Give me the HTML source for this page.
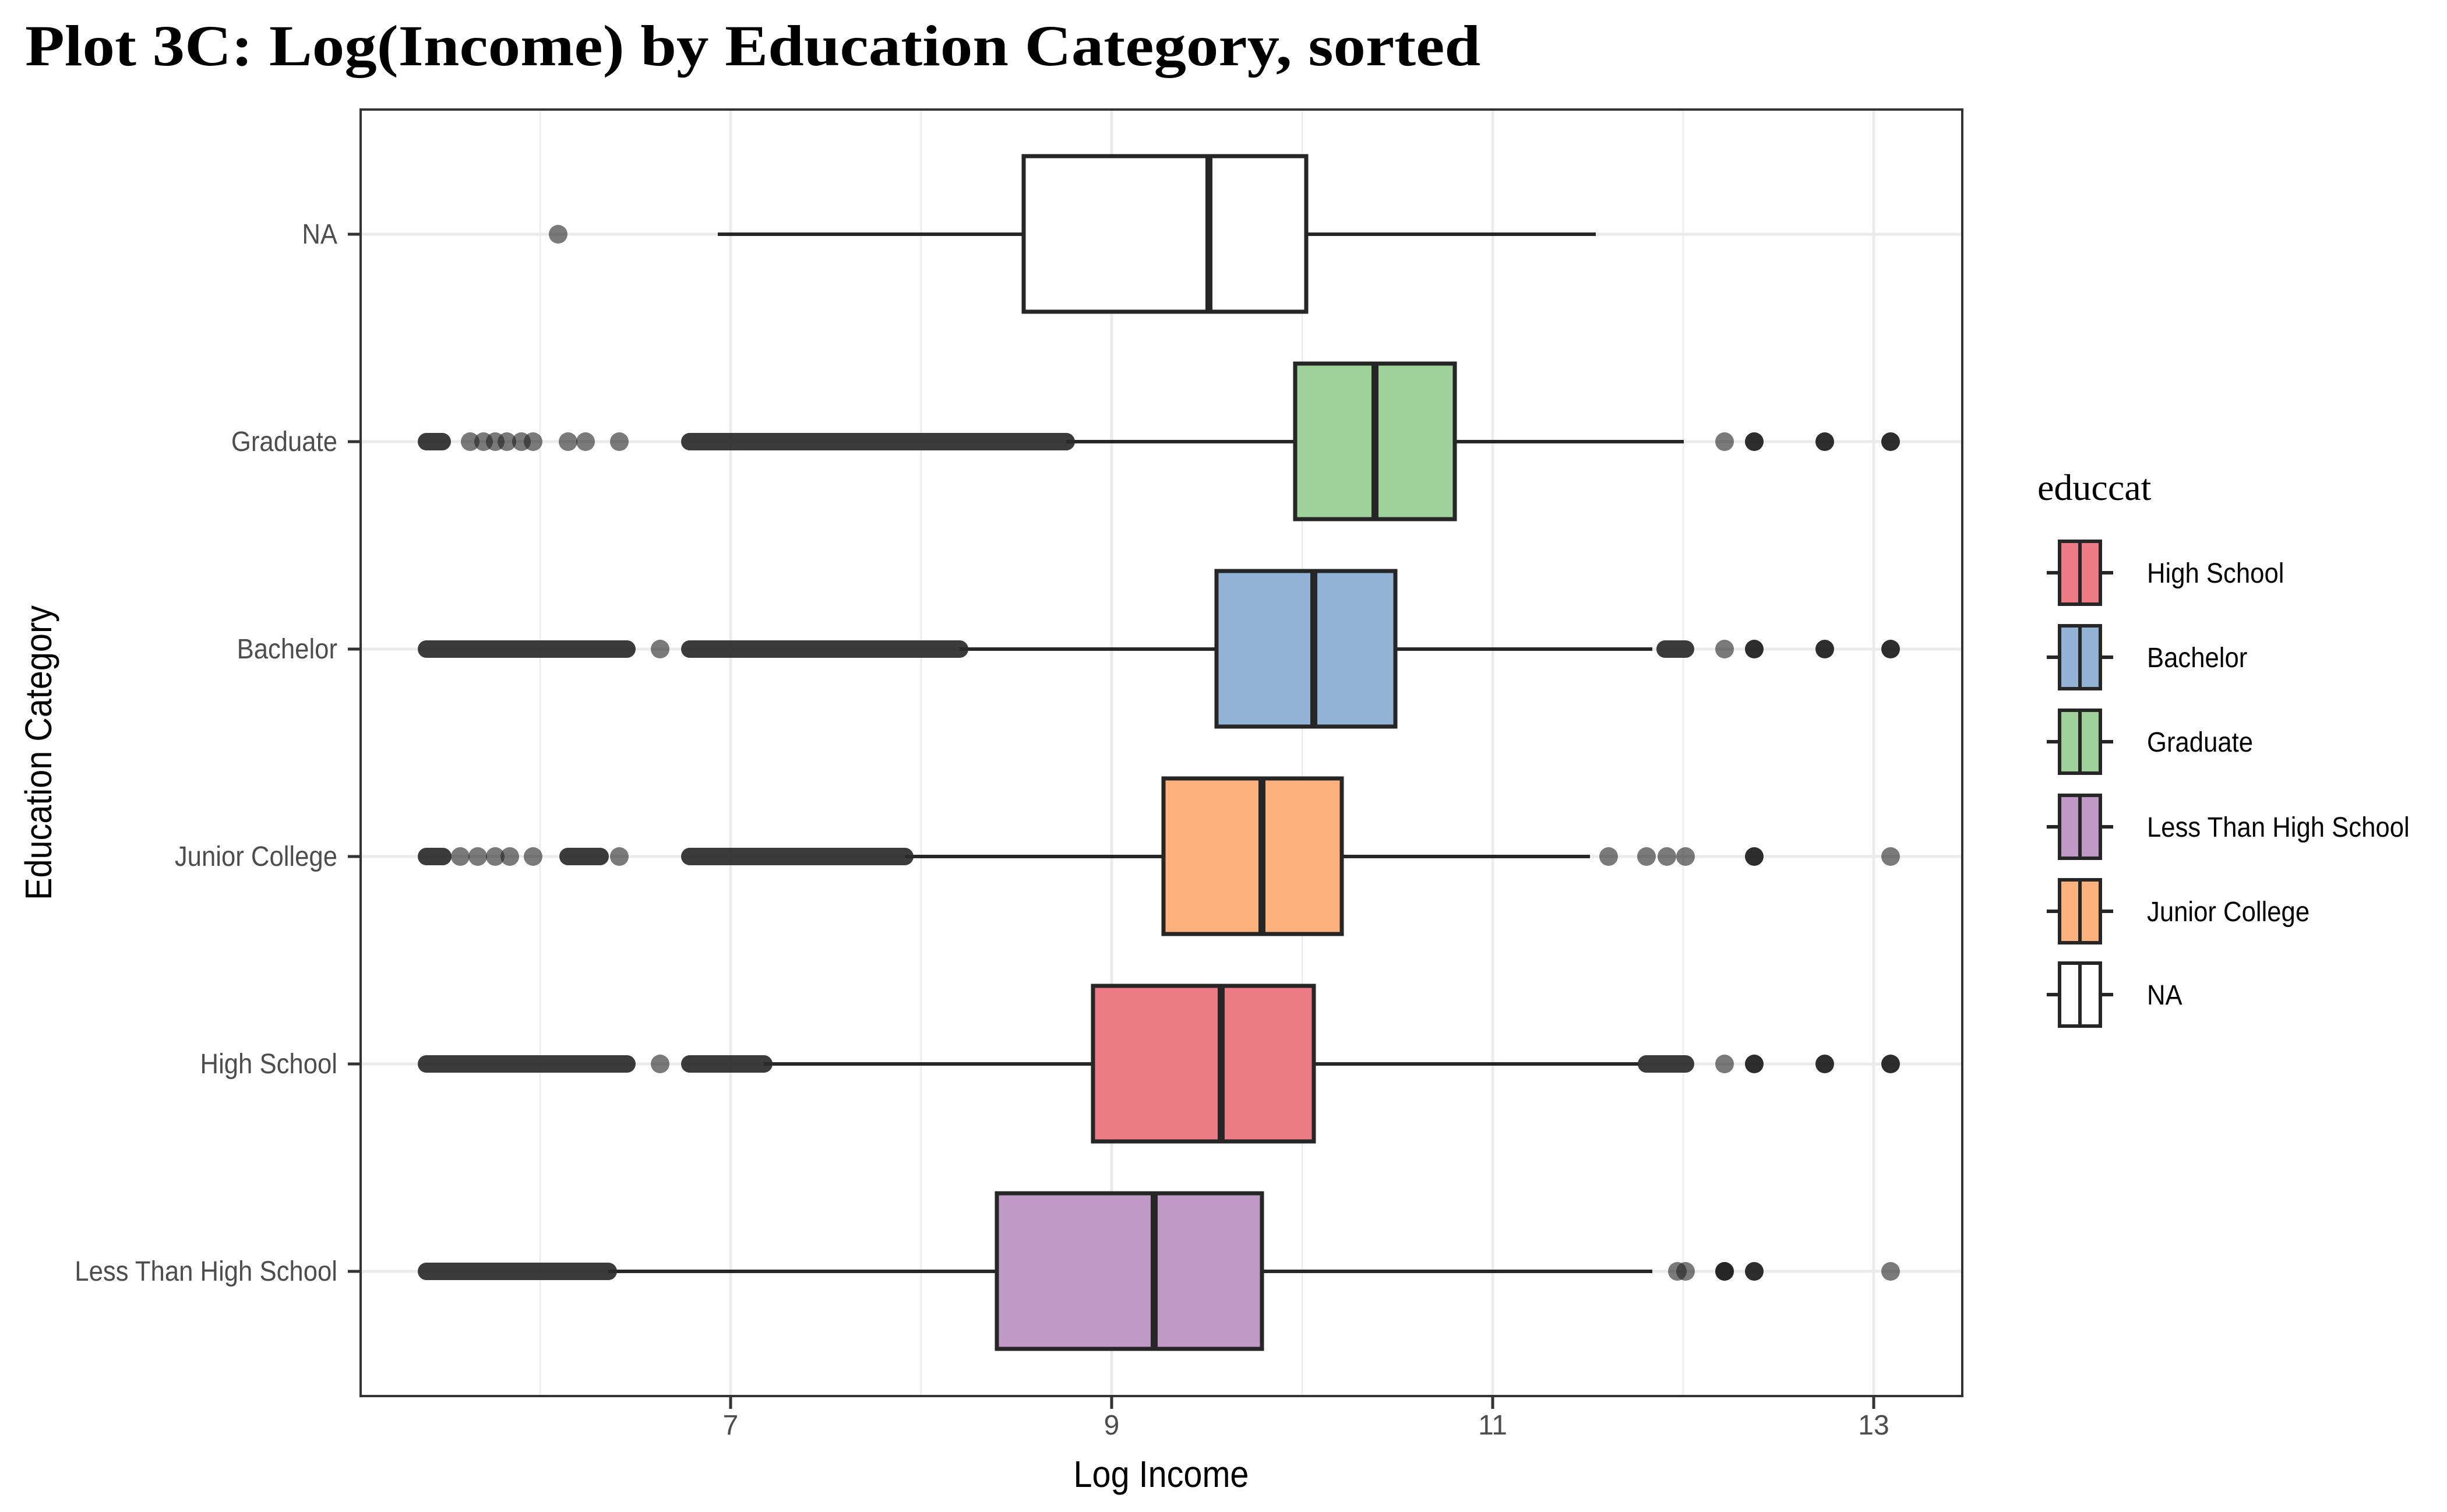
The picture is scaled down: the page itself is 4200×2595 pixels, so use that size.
<!DOCTYPE html>
<html><head><meta charset="utf-8"><style>html,body{margin:0;padding:0;background:#fff}svg{display:block}</style></head>
<body>
<svg width="4200" height="2595" viewBox="0 0 4200 2595" xmlns="http://www.w3.org/2000/svg">
<rect width="4200" height="2595" fill="#fff"/>
<text x="43" y="112" font-family="Liberation Serif, serif" font-weight="bold" font-size="100" textLength="2498" lengthAdjust="spacingAndGlyphs" fill="#000">Plot 3C: Log(Income) by Education Category, sorted</text>
<g stroke="#ebebeb">
<g stroke-width="2.5"><line x1="927" y1="188" x2="927" y2="2396"/><line x1="1581" y1="188" x2="1581" y2="2396"/><line x1="2235" y1="188" x2="2235" y2="2396"/><line x1="2889" y1="188" x2="2889" y2="2396"/></g>
<g stroke-width="5"><line x1="1254" y1="188" x2="1254" y2="2396"/><line x1="1908" y1="188" x2="1908" y2="2396"/><line x1="2562" y1="188" x2="2562" y2="2396"/><line x1="3216" y1="188" x2="3216" y2="2396"/>
<line x1="619" y1="402" x2="3368" y2="402"/><line x1="619" y1="758" x2="3368" y2="758"/><line x1="619" y1="1114" x2="3368" y2="1114"/><line x1="619" y1="1470" x2="3368" y2="1470"/><line x1="619" y1="1826" x2="3368" y2="1826"/><line x1="619" y1="2182" x2="3368" y2="2182"/></g>
</g>
<g stroke="#262626" stroke-width="6">
<line x1="1232" y1="402" x2="1757" y2="402"/><line x1="2242" y1="402" x2="2739" y2="402"/>
<line x1="1830" y1="758" x2="2223" y2="758"/><line x1="2497" y1="758" x2="2890" y2="758"/>
<line x1="1647" y1="1114" x2="2088" y2="1114"/><line x1="2395" y1="1114" x2="2836" y2="1114"/>
<line x1="1553" y1="1470" x2="1997" y2="1470"/><line x1="2303" y1="1470" x2="2729" y2="1470"/>
<line x1="1311" y1="1826" x2="1876" y2="1826"/><line x1="2255" y1="1826" x2="2812" y2="1826"/>
<line x1="1044" y1="2182" x2="1711" y2="2182"/><line x1="2166" y1="2182" x2="2836" y2="2182"/>
</g>
<g stroke="#2a2a2a" stroke-width="30" stroke-linecap="round" stroke-opacity="0.92">
<line x1="732" y1="758" x2="759" y2="758"/><line x1="1184" y1="758" x2="1830" y2="758"/>
<line x1="732" y1="1114" x2="1076" y2="1114"/><line x1="1184" y1="1114" x2="1647" y2="1114"/><line x1="2858" y1="1114" x2="2893" y2="1114"/>
<line x1="732" y1="1470" x2="760" y2="1470"/><line x1="975" y1="1470" x2="1030" y2="1470"/><line x1="1184" y1="1470" x2="1553" y2="1470"/>
<line x1="732" y1="1826" x2="1076" y2="1826"/><line x1="1184" y1="1826" x2="1311" y2="1826"/><line x1="2826" y1="1826" x2="2893" y2="1826"/>
<line x1="732" y1="2182" x2="1044" y2="2182"/>
</g>
<g fill="#222" fill-opacity="0.6">
<circle cx="958" cy="402" r="16"/>
<circle cx="807" cy="758" r="16"/><circle cx="830" cy="758" r="16"/><circle cx="850" cy="758" r="16"/><circle cx="870" cy="758" r="16"/><circle cx="895" cy="758" r="16"/><circle cx="915" cy="758" r="16"/><circle cx="975" cy="758" r="16"/><circle cx="1005" cy="758" r="16"/><circle cx="1063" cy="758" r="16"/><circle cx="2960" cy="758" r="16"/>
<circle cx="1133" cy="1114" r="16"/><circle cx="2960" cy="1114" r="16"/><circle cx="790" cy="1470" r="16"/><circle cx="820" cy="1470" r="16"/><circle cx="850" cy="1470" r="16"/><circle cx="875" cy="1470" r="16"/><circle cx="915" cy="1470" r="16"/><circle cx="1063" cy="1470" r="16"/><circle cx="2761" cy="1470" r="16"/><circle cx="2826" cy="1470" r="16"/><circle cx="2861" cy="1470" r="16"/><circle cx="2893" cy="1470" r="16"/><circle cx="3245" cy="1470" r="16"/>
<circle cx="1133" cy="1826" r="16"/><circle cx="2960" cy="1826" r="16"/>
<circle cx="2879" cy="2182" r="16"/><circle cx="2893" cy="2182" r="16"/><circle cx="2960" cy="2182" r="16"/><circle cx="3245" cy="2182" r="16"/>
</g>
<g fill="#222" fill-opacity="0.95">
<circle cx="3011" cy="758" r="16"/><circle cx="3132" cy="758" r="16"/><circle cx="3245" cy="758" r="16"/>
<circle cx="3011" cy="1114" r="16"/><circle cx="3132" cy="1114" r="16"/><circle cx="3245" cy="1114" r="16"/>
<circle cx="3011" cy="1470" r="16"/>
<circle cx="3011" cy="1826" r="16"/><circle cx="3132" cy="1826" r="16"/><circle cx="3245" cy="1826" r="16"/>
<circle cx="3011" cy="2182" r="16"/><circle cx="2960" cy="2182" r="16"/>
</g>
<g stroke="#262626" stroke-width="7">
<rect x="1757" y="268" width="485" height="267" fill="#fff"/>
<rect x="2223" y="624" width="274" height="267" fill="#9fd29a"/>
<rect x="2088" y="980" width="307" height="267" fill="#93b3d6"/>
<rect x="1997" y="1336" width="306" height="267" fill="#fdb27e"/>
<rect x="1876" y="1692" width="379" height="267" fill="#ec7b86"/>
<rect x="1711" y="2048" width="455" height="267" fill="#c099c7"/>
</g>
<g stroke="#262626" stroke-width="12">
<line x1="2075" y1="268" x2="2075" y2="535"/><line x1="2360" y1="624" x2="2360" y2="891"/><line x1="2255" y1="980" x2="2255" y2="1247"/><line x1="2166" y1="1336" x2="2166" y2="1603"/><line x1="2096" y1="1692" x2="2096" y2="1959"/><line x1="1981" y1="2048" x2="1981" y2="2315"/>
</g>
<rect x="619" y="188" width="2749" height="2208" fill="none" stroke="#333" stroke-width="4"/>
<g stroke="#333" stroke-width="5">
<line x1="597" y1="402" x2="619" y2="402"/><line x1="597" y1="758" x2="619" y2="758"/><line x1="597" y1="1114" x2="619" y2="1114"/><line x1="597" y1="1470" x2="619" y2="1470"/><line x1="597" y1="1826" x2="619" y2="1826"/><line x1="597" y1="2182" x2="619" y2="2182"/>
<line x1="1254" y1="2396" x2="1254" y2="2418"/><line x1="1908" y1="2396" x2="1908" y2="2418"/><line x1="2562" y1="2396" x2="2562" y2="2418"/><line x1="3216" y1="2396" x2="3216" y2="2418"/>
</g>
<g font-family="Liberation Sans, sans-serif" font-size="48" fill="#4d4d4d">
<g text-anchor="end">
<text x="579" y="418" transform="translate(579 0) scale(0.91 1) translate(-579 0)">NA</text>
<text x="579" y="774" transform="translate(579 0) scale(0.91 1) translate(-579 0)">Graduate</text>
<text x="579" y="1130" transform="translate(579 0) scale(0.91 1) translate(-579 0)">Bachelor</text>
<text x="579" y="1486" transform="translate(579 0) scale(0.91 1) translate(-579 0)">Junior College</text>
<text x="579" y="1842" transform="translate(579 0) scale(0.91 1) translate(-579 0)">High School</text>
<text x="579" y="2198" transform="translate(579 0) scale(0.91 1) translate(-579 0)">Less Than High School</text>
</g>
<g text-anchor="middle">
<text x="1254" y="2462">7</text><text x="1908" y="2462">9</text><text x="2562" y="2462">11</text><text x="3216" y="2462">13</text>
</g>
</g>
<text x="1993" y="2552" text-anchor="middle" font-family="Liberation Sans, sans-serif" font-size="64" fill="#000" transform="translate(1993 0) scale(0.9 1) translate(-1993 0)">Log Income</text>
<text x="0" y="0" text-anchor="middle" font-family="Liberation Sans, sans-serif" font-size="64" fill="#000" transform="translate(88 1292) rotate(-90) scale(0.9 1)">Education Category</text>
<text x="3497" y="858" font-family="Liberation Serif, serif" font-size="64" fill="#000">educcat</text>
<g stroke="#262626" stroke-width="6">
<line x1="3513" y1="983" x2="3627" y2="983"/><rect x="3535" y="929" width="70" height="108" fill="#ec7b86"/><line x1="3570" y1="929" x2="3570" y2="1037"/>
<line x1="3513" y1="1128" x2="3627" y2="1128"/><rect x="3535" y="1074" width="70" height="108" fill="#93b3d6"/><line x1="3570" y1="1074" x2="3570" y2="1182"/>
<line x1="3513" y1="1273" x2="3627" y2="1273"/><rect x="3535" y="1219" width="70" height="108" fill="#9fd29a"/><line x1="3570" y1="1219" x2="3570" y2="1327"/>
<line x1="3513" y1="1419" x2="3627" y2="1419"/><rect x="3535" y="1365" width="70" height="108" fill="#c099c7"/><line x1="3570" y1="1365" x2="3570" y2="1473"/>
<line x1="3513" y1="1564" x2="3627" y2="1564"/><rect x="3535" y="1510" width="70" height="108" fill="#fdb27e"/><line x1="3570" y1="1510" x2="3570" y2="1618"/>
<line x1="3513" y1="1707" x2="3627" y2="1707"/><rect x="3535" y="1653" width="70" height="108" fill="#fff"/><line x1="3570" y1="1653" x2="3570" y2="1761"/>
</g>
<g font-family="Liberation Sans, sans-serif" font-size="48" fill="#000">
<text x="3685" y="1000" transform="translate(3685 0) scale(0.91 1) translate(-3685 0)">High School</text>
<text x="3685" y="1145" transform="translate(3685 0) scale(0.91 1) translate(-3685 0)">Bachelor</text>
<text x="3685" y="1290" transform="translate(3685 0) scale(0.91 1) translate(-3685 0)">Graduate</text>
<text x="3685" y="1436" transform="translate(3685 0) scale(0.91 1) translate(-3685 0)">Less Than High School</text>
<text x="3685" y="1581" transform="translate(3685 0) scale(0.91 1) translate(-3685 0)">Junior College</text>
<text x="3685" y="1724" transform="translate(3685 0) scale(0.91 1) translate(-3685 0)">NA</text>
</g>
</svg>
</body></html>
